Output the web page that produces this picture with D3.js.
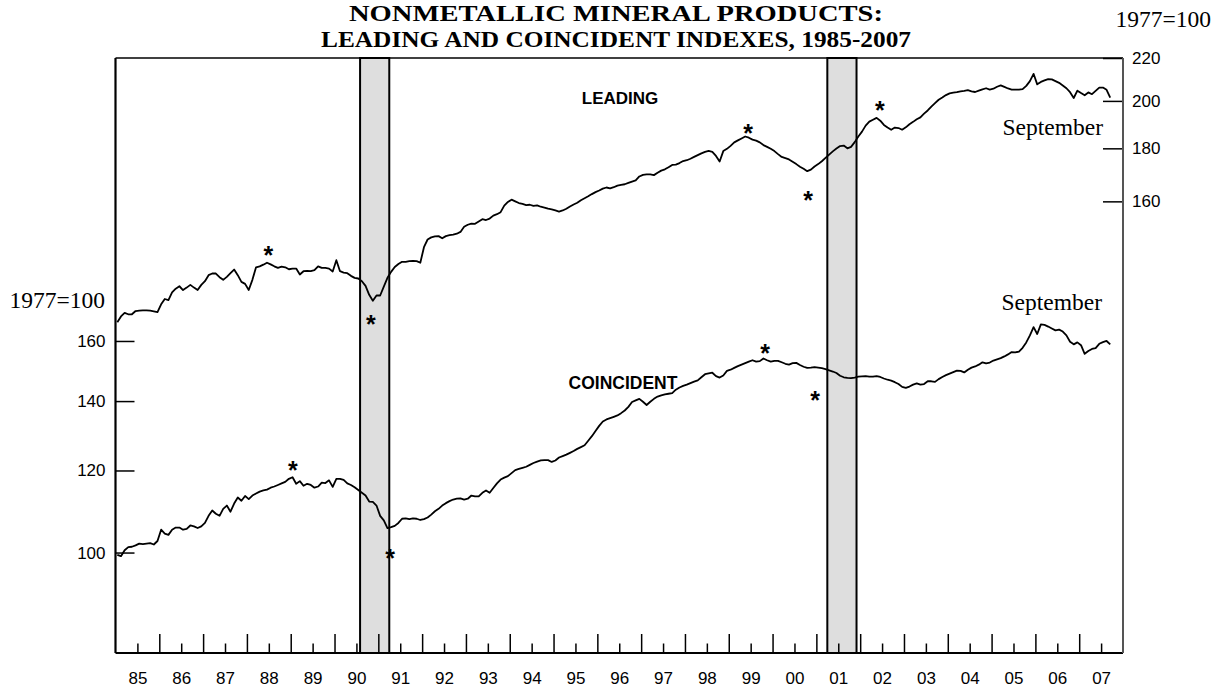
<!DOCTYPE html>
<html>
<head>
<meta charset="utf-8">
<script src="https://cdn.jsdelivr.net/npm/d3@7"></script>
<style>
  body { margin: 0; background: #fff; }
  svg { display: block; }
  .sans { font-family: Arial, "Liberation Sans", sans-serif; }
  .serif { font-family: "Times New Roman", "Liberation Serif", serif; }
</style>
</head>
<body>
<div id="chart"></div>
<script>
// monthly index values, Jan 1985 .. Sep 2007 (one row per year)
const leading = [
  122.3, 123.9, 124.9, 124.5, 124.5, 125.4, 125.5, 125.6, 125.6, 125.5, 125.3, 125.1, // 85
  127.3, 128.8, 128.5, 130.7, 131.8, 132.5, 131.4, 132.1, 132.9, 132.1, 131.4, 132.9, // 86
  134.0, 135.8, 136.3, 136.3, 135.2, 134.4, 135.3, 136.4, 137.5, 135.8, 133.8, 133.2, // 87
  131.4, 134.4, 138.2, 138.5, 139.0, 139.6, 139.1, 138.5, 138.0, 138.4, 138.2, 137.6, // 88
  137.8, 137.8, 136.0, 137.0, 137.1, 137.0, 137.3, 138.5, 138.0, 138.0, 137.8, 136.9, // 89
  140.4, 137.0, 136.6, 136.4, 135.6, 135.0, 134.8, 134.0, 132.6, 130.0, 128.3, 129.8, // 90
  129.8, 132.4, 135.0, 136.8, 138.3, 139.2, 139.9, 139.9, 140.1, 140.2, 140.1, 139.6, // 91
  144.5, 147.0, 147.7, 148.0, 148.1, 147.4, 148.1, 148.4, 148.6, 148.9, 149.5, 151.2, // 92
  151.9, 152.3, 152.2, 153.0, 153.8, 153.5, 154.0, 155.0, 155.5, 156.2, 158.5, 159.8, // 93
  160.6, 160.0, 159.4, 159.1, 158.7, 158.8, 158.4, 158.6, 158.1, 157.8, 157.4, 157.2, // 94
  156.8, 156.4, 156.8, 157.4, 158.2, 158.9, 159.5, 160.4, 161.1, 161.8, 162.6, 163.3, // 95
  163.9, 164.6, 165.0, 164.7, 165.1, 165.7, 166.0, 166.2, 166.7, 167.2, 167.6, 169.1, // 96
  169.7, 169.9, 169.9, 169.6, 170.5, 171.3, 171.8, 172.6, 173.5, 173.6, 174.2, 175.0, // 97
  175.3, 175.9, 176.6, 177.3, 178.0, 178.6, 179.0, 178.6, 177.0, 174.8, 178.9, 179.8, // 98
  181.0, 182.4, 183.2, 184.0, 184.8, 184.3, 183.5, 183.1, 182.4, 181.3, 180.6, 179.8, // 99
  178.9, 177.7, 176.6, 176.1, 175.6, 174.7, 173.8, 172.8, 172.0, 171.1, 171.7, 172.9, // 00
  173.8, 174.9, 176.2, 177.5, 178.8, 179.9, 180.9, 181.1, 180.0, 180.6, 182.5, 184.8, // 01
  186.8, 189.3, 191.0, 191.8, 192.6, 191.4, 189.6, 188.5, 187.6, 188.5, 188.3, 187.6, // 02
  188.6, 189.9, 190.9, 192.0, 192.8, 194.4, 195.8, 197.5, 199.0, 200.5, 201.5, 202.6, // 03
  203.4, 203.7, 203.9, 204.3, 204.5, 204.8, 204.3, 204.0, 204.6, 205.2, 205.7, 205.1, // 04
  205.5, 206.4, 207.0, 206.3, 205.6, 205.1, 205.1, 205.1, 205.3, 206.8, 209.0, 212.4, // 05
  207.5, 208.6, 209.3, 209.9, 209.8, 209.0, 208.2, 207.0, 205.7, 203.9, 201.3, 204.6, // 06
  203.5, 202.5, 203.8, 203.0, 204.5, 206.0, 206.0, 205.0, 201.5                        // 07
];

const coincident = [
   99.5,  99.2, 100.5, 101.2, 101.3, 101.6, 102.0, 101.9, 102.0, 102.1, 101.8, 102.6, // 85
  105.2, 104.3, 104.0, 105.2, 105.7, 105.7, 105.2, 105.4, 106.2, 106.0, 105.6, 106.0, // 86
  106.8, 108.5, 109.8, 109.0, 108.5, 110.2, 111.0, 109.5, 111.5, 113.0, 112.2, 113.4, // 87
  112.6, 113.5, 114.0, 114.5, 114.8, 115.0, 115.5, 115.8, 116.2, 116.6, 117.0, 117.8, // 88
  118.2, 116.5, 117.2, 116.0, 116.5, 116.2, 115.5, 115.8, 116.8, 116.7, 117.4, 115.7, // 89
  117.8, 117.8, 117.5, 116.6, 116.2, 115.6, 114.9, 114.2, 113.5, 112.0, 111.9, 111.0, // 90
  108.5, 107.4, 105.6, 105.8, 106.1, 106.8, 107.8, 107.9, 107.7, 107.9, 107.8, 107.5, // 91
  107.7, 108.1, 108.8, 109.6, 110.2, 111.0, 111.6, 112.1, 112.5, 112.7, 112.8, 112.5, // 92
  112.7, 113.5, 113.3, 113.3, 114.2, 114.8, 114.2, 115.4, 116.6, 117.6, 118.1, 118.5, // 93
  119.3, 120.1, 120.4, 120.7, 121.0, 121.5, 122.0, 122.4, 122.7, 122.8, 122.8, 122.3, // 94
  122.7, 123.5, 123.9, 124.3, 124.8, 125.3, 125.9, 126.4, 126.9, 128.2, 129.5, 131.0, // 95
  132.5, 133.8, 134.4, 134.8, 135.2, 135.6, 136.3, 137.1, 138.2, 139.7, 140.2, 140.7, // 96
  139.8, 138.8, 139.8, 140.7, 141.4, 141.8, 142.1, 142.3, 142.5, 143.6, 144.3, 144.8, // 97
  145.2, 145.7, 146.2, 146.6, 147.6, 148.6, 148.9, 149.1, 148.0, 147.5, 148.2, 149.7, // 98
  150.1, 150.7, 151.3, 151.8, 152.3, 152.8, 153.3, 152.8, 153.0, 153.9, 153.3, 152.8, // 99
  153.1, 153.1, 152.6, 152.1, 151.8, 152.3, 152.4, 151.7, 151.1, 150.7, 150.8, 151.0, // 00
  150.8, 150.6, 150.3, 149.9, 149.5, 149.0, 148.1, 147.6, 147.4, 147.3, 147.5, 147.8, // 01
  147.9, 148.0, 147.8, 147.8, 148.0, 147.7, 147.2, 146.8, 146.5, 146.0, 145.4, 144.5, // 02
  144.2, 144.6, 145.2, 145.6, 145.2, 145.4, 146.3, 146.3, 146.1, 147.0, 147.7, 148.3, // 03
  148.8, 149.3, 149.8, 149.7, 149.2, 150.1, 150.8, 151.2, 151.8, 152.6, 152.2, 152.5, // 04
  153.2, 153.6, 154.0, 154.6, 155.3, 156.1, 156.0, 156.3, 157.6, 159.5, 162.0, 165.0, // 05
  162.5, 166.0, 165.8, 165.2, 164.5, 163.8, 164.1, 163.4, 162.0, 159.7, 158.8, 159.5, // 06
  158.5, 155.5, 156.5, 157.2, 157.5, 159.0, 159.6, 160.0, 158.8                        // 07
];

const startYear = 1985, endYear = 2008;
const recessions = [[1990 + 7 / 12, 1991 + 3 / 12], [2001 + 3 / 12, 2001 + 11 / 12]];
const leftTicks = [100, 120, 140, 160];
const rightTicks = [160, 180, 200, 220];
// turning points: [date, index level where the star sits]
const leadingStars = [[1988.49, 143.6], [1990.83, 123.1], [1999.44, 188.3], [2000.81, 162.3], [2002.45, 198.2]];
const coincidentStars = [[1989.05, 121.5], [1991.27, 99.9], [1999.83, 157.5], [2000.97, 141.9]];

const W = 1223, H = 687;
const plot = {left: 115.5, right: 1123, top: 58, bottom: 653};

const svg = d3.select("#chart").append("svg")
  .attr("width", W)
  .attr("height", H);

svg.append("rect").attr("width", W).attr("height", H).attr("fill", "#fff");

const x = d3.scaleLinear()
  .domain([startYear, endYear])
  .range([plot.left, plot.right]);

const yLeft = d3.scaleLog()
  .domain([80, 300])
  .range([plot.bottom, plot.top]);

const yRight = d3.scaleLog()
  .domain([220 / 3.75, 220])
  .range([plot.bottom, plot.top]);

const monthly = values => values.map((v, i) => ({date: startYear + (i + 0.5) / 12, value: v}));

// recession bands
svg.append("g")
  .selectAll("rect")
  .data(recessions)
  .enter().append("rect")
  .attr("x", d => x(d[0]))
  .attr("y", plot.top)
  .attr("width", d => x(d[1]) - x(d[0]))
  .attr("height", plot.bottom - plot.top)
  .attr("fill", "#dedede")
  .attr("stroke", "#000")
  .attr("stroke-width", 2);

// x axis: long ticks at year boundaries, short ticks + labels mid-year
const years = d3.range(startYear, endYear);
svg.append("g")
  .attr("transform", `translate(0, ${plot.bottom})`)
  .call(d3.axisBottom(x).tickValues(years.slice(1)).tickSize(-19).tickSizeOuter(0).tickFormat(""))
  .call(g => g.select(".domain").remove())
  .call(g => g.selectAll("line").attr("stroke", "#000").attr("stroke-width", 1.5));

svg.append("g")
  .attr("class", "sans")
  .attr("transform", `translate(0, ${plot.bottom})`)
  .call(d3.axisBottom(x).tickValues(years.map(y => y + 0.5)).tickSize(-9.5).tickSizeOuter(0).tickPadding(19)
    .tickFormat(d => String(Math.floor(d) % 100).padStart(2, "0")))
  .call(g => g.select(".domain").remove())
  .call(g => g.selectAll("line").attr("stroke", "#000").attr("stroke-width", 1.5))
  .call(g => g.selectAll("text").attr("font-size", 17).attr("fill", "#000").attr("font-family", null));

// left axis (coincident)
svg.append("g")
  .attr("class", "sans")
  .attr("transform", `translate(${plot.left}, 0)`)
  .call(d3.axisLeft(yLeft).tickValues(leftTicks).tickSize(-19).tickSizeOuter(0).tickPadding(10).tickFormat(d3.format("d")))
  .call(g => g.select(".domain").remove())
  .call(g => g.selectAll("line").attr("stroke", "#000").attr("stroke-width", 1.5))
  .call(g => g.selectAll("text").attr("font-size", 17).attr("fill", "#000").attr("font-family", null));

// right axis (leading)
svg.append("g")
  .attr("class", "sans")
  .attr("transform", `translate(${plot.right}, 0)`)
  .call(d3.axisRight(yRight).tickValues(rightTicks).tickSize(-20).tickSizeOuter(0).tickPadding(9).tickFormat(d3.format("d")))
  .call(g => g.select(".domain").remove())
  .call(g => g.selectAll("line").attr("stroke", "#000").attr("stroke-width", 1.5))
  .call(g => g.selectAll("text").attr("font-size", 17).attr("fill", "#000").attr("font-family", null));

// frame
const frame = svg.append("g").attr("fill", "none");
frame.append("line").attr("x1", plot.left).attr("x2", plot.right).attr("y1", plot.top).attr("y2", plot.top)
  .attr("stroke", "#000").attr("stroke-width", 1.5);
frame.append("line").attr("x1", plot.left).attr("x2", plot.right).attr("y1", plot.bottom).attr("y2", plot.bottom)
  .attr("stroke", "#000").attr("stroke-width", 2);
frame.append("line").attr("x1", plot.left).attr("x2", plot.left).attr("y1", plot.top).attr("y2", plot.bottom)
  .attr("stroke", "#000").attr("stroke-width", 2.2);
frame.append("line").attr("x1", plot.right).attr("x2", plot.right).attr("y1", plot.top).attr("y2", plot.bottom)
  .attr("stroke", "#555").attr("stroke-width", 2);

// series
const lineFor = scale => d3.line().x(d => x(d.date)).y(d => scale(d.value));

svg.append("path")
  .datum(monthly(leading))
  .attr("fill", "none")
  .attr("stroke", "#000")
  .attr("stroke-width", 1.8)
  .attr("stroke-linejoin", "round")
  .attr("d", lineFor(yRight));

svg.append("path")
  .datum(monthly(coincident))
  .attr("fill", "none")
  .attr("stroke", "#000")
  .attr("stroke-width", 1.8)
  .attr("stroke-linejoin", "round")
  .attr("d", lineFor(yLeft));

// turning-point stars
const starSize = 25;
const drawStars = (stars, scale) => svg.append("g")
  .attr("class", "sans")
  .selectAll("text")
  .data(stars)
  .enter().append("text")
  .attr("x", d => x(d[0]))
  .attr("y", d => scale(d[1]) + starSize * 0.55)
  .attr("text-anchor", "middle")
  .attr("font-size", starSize)
  .attr("font-weight", "bold")
  .text("*");

drawStars(leadingStars, yRight);
drawStars(coincidentStars, yLeft);

// labels
const title = svg.append("g")
  .attr("class", "serif")
  .attr("text-anchor", "middle")
  .attr("font-weight", "bold")
  .attr("font-size", 23);
title.append("text").attr("x", 616).attr("y", 21)
  .attr("textLength", 534).attr("lengthAdjust", "spacingAndGlyphs")
  .text("NONMETALLIC MINERAL PRODUCTS:");
title.append("text").attr("x", 616).attr("y", 46.5)
  .attr("textLength", 590).attr("lengthAdjust", "spacingAndGlyphs")
  .text("LEADING AND COINCIDENT INDEXES, 1985-2007");

const serifNote = (tx, ty, anchor, s) => svg.append("text")
  .attr("class", "serif")
  .attr("x", tx).attr("y", ty)
  .attr("text-anchor", anchor)
  .attr("font-size", 23.5)
  .text(s);

serifNote(1211, 27, "end", "1977=100");
serifNote(105, 308, "end", "1977=100");
serifNote(1103, 135, "end", "September");
serifNote(1102, 310, "end", "September");

svg.append("text").attr("class", "sans")
  .attr("x", 620).attr("y", 104)
  .attr("text-anchor", "middle").attr("font-weight", "bold").attr("font-size", 17)
  .text("LEADING");

svg.append("text").attr("class", "sans")
  .attr("x", 623).attr("y", 389)
  .attr("text-anchor", "middle").attr("font-weight", "bold").attr("font-size", 17.5)
  .text("COINCIDENT");
</script>
</body>
</html>
